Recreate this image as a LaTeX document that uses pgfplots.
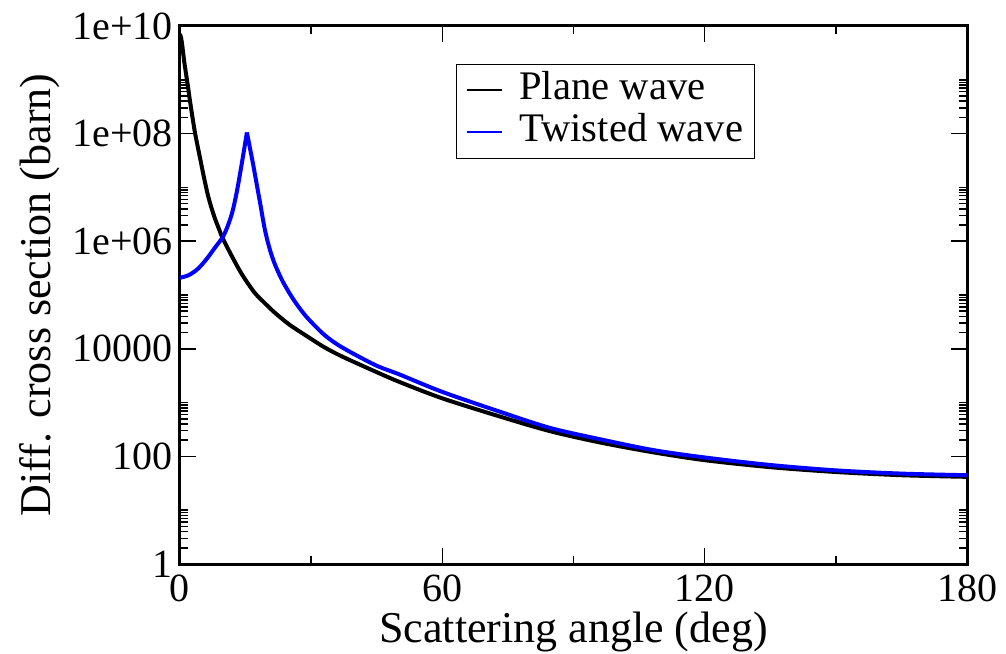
\documentclass[border=0pt]{standalone}
\usepackage{fontspec}
\setmainfont{Liberation Serif}
\usepackage{pgfplots}
\pgfplotsset{compat=1.18}
\begin{document}
\begin{tikzpicture}
\begin{axis}[
    scale only axis,
    width=393.5pt, height=269pt,
    xmin=0, xmax=180,
    ymode=log, ymin=1, ymax=1e10,
    xtick={0,60,120,180},
    xticklabels={0,60,120,180},
    minor xtick={30,90,150},
    ytick={1,100,1e4,1e6,1e8,1e10},
    yticklabels={1,100,10000,1e+06,1e+08,1e+10},
    minor ytick={2,3,4,5,6,7,8,9,10,
        200,300,400,500,600,700,800,900,1000,
        2e4,3e4,4e4,5e4,6e4,7e4,8e4,9e4,1e5,
        2e6,3e6,4e6,5e6,6e6,7e6,8e6,9e6,1e7,
        2e8,3e8,4e8,5e8,6e8,7e8,8e8,9e8,1e9},
    tick align=inside,
    major tick length=8pt, minor tick length=4pt,
    every tick/.style={black, line width=0.75pt},
    axis line style={line width=1.5pt},
    tick label style={font=\fontsize{20}{24}\selectfont},
    xticklabel style={anchor=base, yshift=-18.5pt},
    yticklabel style={anchor=east},
    xlabel={Scattering angle (deg)},
    ylabel={Diff. cross section (barn)},
    label style={font=\fontsize{22}{26}\selectfont},
    xlabel style={at={(axis description cs:0.5,-0.1468)}, anchor=base},
    ylabel style={at={(axis description cs:-0.165,0.5)}, anchor=base},
    legend image code/.code={\draw[#1, line width=1.3pt] (0pt,0pt) -- (17.5pt,0pt);},
    legend style={at={(axis description cs:0.351,0.93)}, anchor=north west,
        draw=black, line width=0.5pt, inner xsep=4.5pt, inner ysep=2.5pt,
        column sep=7pt,
        font=\fontsize{20.3}{21}\selectfont,
        nodes={inner sep=1pt, text height=14pt, text depth=5pt}},
    legend cell align=left,
]
% plane wave
\addplot[black, line width=2pt, smooth] coordinates {
    (0,7.08e9) (0.25,6.03e9) (0.5,4.47e9) (0.75,3.02e9) (1.0,2.09e9)
    (1.4,1.26e9) (1.83,7.41e8) (2.3,3.98e8) (2.8,2.14e8) (3.4,1.07e8)
    (4.0,6.03e7) (4.7,3.16e7) (5.5,1.51e7) (6.4,7.08e6) (7.2,4.17e6)
    (8.0,2.63e6) (8.9,1.70e6) (9.8,1.12e6) (12,5.01e5) (14.2,2.40e5)
    (17,1.12e5) (19.5,6.92e4) (21.7,4.68e4) (25,2.82e4) (29.3,1.66e4)
    (33,1.07e4) (37,7.24e3) (44.6,3.80e3) (50.3,2.40e3) (60,1.20e3)
    (73.2,550) (84.6,295) (96,182) (108,120) (120,85.1)
    (135,63.1) (150,51.3) (165,44.7) (180,41.7)
};
\addlegendentry{Plane wave}
% twisted wave, rising branch
\addplot[blue, line width=2pt, smooth] coordinates {
    (0,2.09e5) (2,2.34e5) (4,3.02e5) (6,4.57e5) (8,7.59e5)
    (9.8,1.20e6) (11,2.0e6) (12,3.55e6) (13,8.32e6) (14,2.40e7)
    (14.8,5.89e7) (15.3,1.05e8)
};
\addlegendentry{Twisted wave}
% twisted wave, falling branch
\addplot[blue, line width=2pt, smooth, forget plot] coordinates {
    (15.3,1.05e8) (15.6,7.94e7) (16.0,5.37e7) (16.7,2.75e7) (17.5,1.20e7)
    (18.3,5.25e6) (19.4,1.66e6) (20.5,7.24e5) (21.7,3.72e5) (23.5,1.78e5)
    (25.6,9.12e4) (27.4,5.62e4) (29.3,3.63e4) (33,1.82e4) (37,1.07e4)
    (44.6,5.01e3) (50.3,3.31e3) (60,1.58e3) (73.2,676) (84.6,339)
    (96,209) (108,132) (120,95.5) (135,69.2) (150,55.0) (165,47.9) (180,44.7)
};
\end{axis}
\pgfresetboundingbox
\useasboundingbox ([xshift=-90pt,yshift=-44.5pt]current axis.south west)
    rectangle ([xshift=19.5pt,yshift=13pt]current axis.north east);
\end{tikzpicture}
\end{document}
